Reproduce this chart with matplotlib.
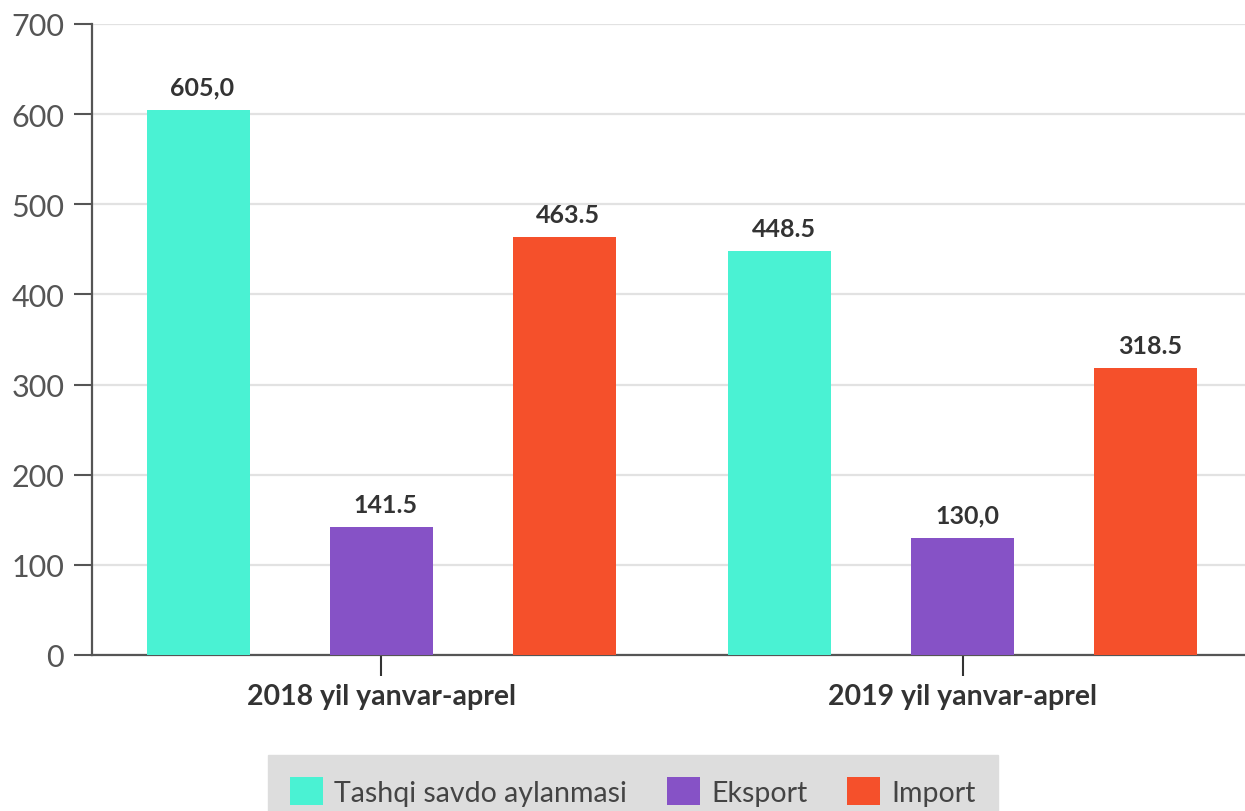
import matplotlib
matplotlib.use("Agg")
import matplotlib.pyplot as plt
from matplotlib.patches import Patch

plt.rcParams["font.family"] = ["Lato", "DejaVu Sans"]

periods = ["2018 yil yanvar-aprel", "2019 yil yanvar-aprel"]
series = ["Tashqi savdo aylanmasi", "Eksport", "Import"]
turnover = [605.0, 448.5]
export = [141.5, 130.0]
imports = [463.5, 318.5]
value_labels = [["605,0", "448.5"], ["141.5", "130,0"], ["463.5", "318.5"]]
yticks = [0, 100, 200, 300, 400, 500, 600, 700]

colors = ["#4AF2D3", "#8652C6", "#F5502B"]

fig = plt.figure(figsize=(12.45, 8.12), dpi=100)
ax = fig.add_axes([92 / 1245, 1 - 656 / 812, (1245 - 92) / 1245, (656 - 25) / 812])

x = list(range(len(periods)))
offset = 0.3144
width = 0.177
for si, vals in enumerate([turnover, export, imports]):
    xs = [xi + (si - 1) * offset for xi in x]
    ax.bar(xs, vals, width=width, color=colors[si], zorder=3)
    for xv, v, lab in zip(xs, vals, value_labels[si]):
        ax.annotate(lab, (xv, v), xytext=(3, 8), textcoords="offset points",
                    ha="center", va="bottom", fontsize=18, fontweight="bold",
                    color="#333333")

ax.set_xlim(-0.497, 1.485)
ax.set_ylim(0, 700)
ax.set_yticks(yticks)
ax.set_xticks(x)
ax.set_xticklabels(periods, fontsize=20.5, fontweight="bold", color="#333333")
ax.tick_params(axis="y", labelsize=22, labelcolor="#555555", length=13,
               width=1.5, color="#555555", pad=7)
ax.tick_params(axis="x", length=15, width=1.5, color="#333333", pad=5)
ax.grid(axis="y", color="#e2e2e2", linewidth=1.6, zorder=0)
for s in ["top", "right"]:
    ax.spines[s].set_visible(False)
for s in ["left", "bottom"]:
    ax.spines[s].set_color("#555555")
    ax.spines[s].set_linewidth(1.6)

handles = [Patch(facecolor=c, label=l) for c, l in zip(colors, series)]
leg = fig.legend(handles=handles, ncol=3, loc="upper center",
                 bbox_to_anchor=(633 / 1245, 1 - 756 / 812), fontsize=20.5,
                 frameon=True, fancybox=False, facecolor="#dddddd",
                 edgecolor="#dddddd", framealpha=1, handlelength=1.15,
                 handleheight=1.15, handletextpad=0.4, columnspacing=1.4,
                 borderpad=0.78, borderaxespad=0)
for t in leg.get_texts():
    t.set_color("#444444")

fig.savefig("out.png", dpi=100)
